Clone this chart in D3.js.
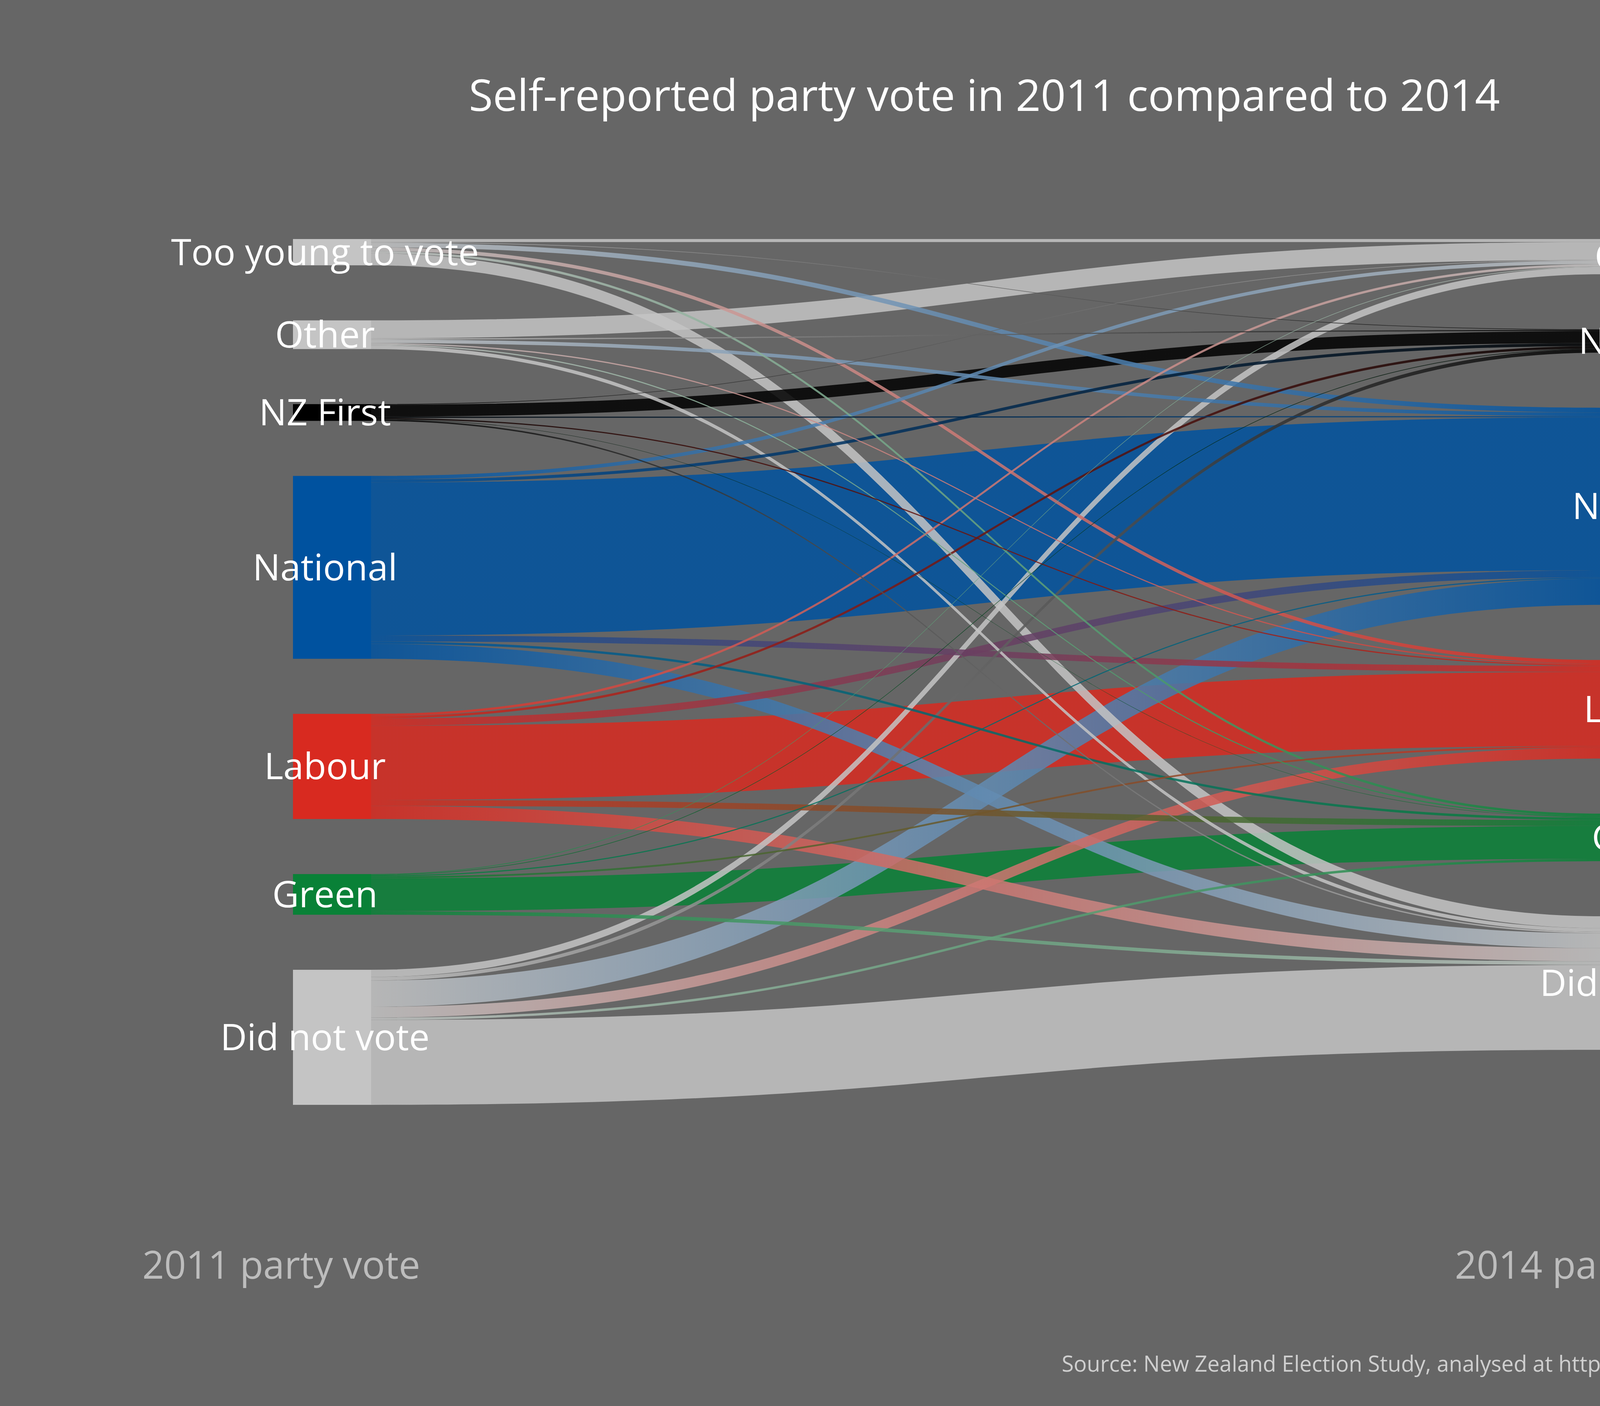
<!DOCTYPE html>
<html>
<head>
<meta charset="utf-8">
<script src="https://cdn.jsdelivr.net/npm/d3@7"></script>
<style>
  body { margin: 0; background: #666666; }
  text { font-family: "Open Sans", Lato, sans-serif; }
</style>
</head>
<body>
<div id="chart"></div>
<script>
const width = 4800;
const height = 3600;

// parties, top to bottom on each side
const sources = ["Too young to vote", "Other", "NZ First", "National", "Labour", "Green", "Did not vote"];
const targets = ["Other", "NZ First", "National", "Labour", "Green", "Did not vote"];

const colours = {
  "Too young to vote": "#c4c4c4",
  "Other": "#c4c4c4",
  "NZ First": "#000000",
  "National": "#00529f",
  "Labour": "#d82a20",
  "Green": "#098137",
  "Did not vote": "#c4c4c4"
};

// rows = 2011 vote (sources), columns = 2014 vote (targets), roughly thousands
const flows = [
  [2.5, 0.5, 4, 3, 2, 10],
  [15, 1, 3, 1, 1, 3],
  [0.5, 10, 1, 1, 0.3, 1.2],
  [3, 2.5, 128, 5, 2, 12.5],
  [2, 2, 6, 62, 5, 11],
  [0.5, 0.5, 1, 1.5, 27.5, 3],
  [6, 3, 22, 9, 2, 71]
];

const gap = 141;
const topY = 612;
const unit = 3.06;
const leftRect = [750, 950];
const rightRect = [4100, 4290];

const y = d3.scaleLinear().domain([0, 1]).range([0, unit]);

const svg = d3.select("#chart").append("svg")
  .attr("width", width).attr("height", height);
svg.append("rect").attr("width", width).attr("height", height).attr("fill", "#666666");
const defs = svg.append("defs");

// node positions
const srcTotals = flows.map(r => d3.sum(r));
const tgtTotals = targets.map((t, j) => d3.sum(flows, r => r[j]));
let acc = topY;
const srcNodes = sources.map((s, i) => {
  const n = { name: s, y0: acc, y1: acc + y(srcTotals[i]) };
  acc = n.y1 + gap;
  return n;
});
acc = topY;
const tgtNodes = targets.map((t, j) => {
  const n = { name: t, y0: acc, y1: acc + y(tgtTotals[j]) };
  acc = n.y1 + gap;
  return n;
});

// ribbons
const links = [];
const srcOff = srcNodes.map(n => n.y0);
sources.forEach((s, i) => {
  targets.forEach((t, j) => {
    const w = y(flows[i][j]);
    links.push({ i, j, s, t, sy: srcOff[i], ty: 0, w });
    srcOff[i] += w;
  });
});
targets.forEach((t, j) => {
  let off = tgtNodes[j].y0;
  sources.forEach((s, i) => {
    const l = links.find(d => d.i === i && d.j === j);
    l.ty = off;
    off += l.w;
  });
});

const x0 = leftRect[1], x1 = rightRect[0], xm = (x0 + x1) / 2;
function ribbon(d) {
  return `M${x0},${d.sy}C${xm},${d.sy} ${xm},${d.ty} ${x1},${d.ty}` +
    `L${x1},${d.ty + d.w}C${xm},${d.ty + d.w} ${xm},${d.sy + d.w} ${x0},${d.sy + d.w}Z`;
}

links.sort((a, b) => b.w - a.w);
links.forEach((d, k) => {
  const g = defs.append("linearGradient").attr("id", "g" + k)
    .attr("gradientUnits", "userSpaceOnUse")
    .attr("x1", x0).attr("x2", x1).attr("y1", 0).attr("y2", 0);
  g.append("stop").attr("offset", "0%").attr("stop-color", colours[d.s]);
  g.append("stop").attr("offset", "100%").attr("stop-color", colours[d.t]);
  svg.append("path").attr("d", ribbon(d))
    .attr("fill", `url(#g${k})`).attr("fill-opacity", 0.85);
});

// node bars
svg.selectAll(".ln").data(srcNodes).enter().append("rect")
  .attr("x", leftRect[0]).attr("width", leftRect[1] - leftRect[0])
  .attr("y", d => d.y0).attr("height", d => d.y1 - d.y0)
  .attr("fill", d => colours[d.name]);
svg.selectAll(".rn").data(tgtNodes).enter().append("rect")
  .attr("x", rightRect[0]).attr("width", rightRect[1] - rightRect[0])
  .attr("y", d => d.y0).attr("height", d => d.y1 - d.y0)
  .attr("fill", d => colours[d.name]);

// labels
svg.selectAll(".ll").data(srcNodes).enter().append("text")
  .attr("x", 832).attr("y", d => (d.y0 + d.y1) / 2)
  .attr("dy", "0.35em").attr("text-anchor", "middle")
  .attr("font-size", 94).attr("fill", "#ffffff").text(d => d.name);
svg.selectAll(".rl").data(tgtNodes).enter().append("text")
  .attr("x", 4210).attr("y", d => (d.y0 + d.y1) / 2)
  .attr("dy", "0.35em").attr("text-anchor", "middle")
  .attr("font-size", 94).attr("fill", "#ffffff").text(d => d.name);

svg.append("text").attr("x", 2520).attr("y", 245).attr("dy", "0.35em")
  .attr("text-anchor", "middle").attr("font-size", 112).attr("fill", "#ffffff")
  .text("Self-reported party vote in 2011 compared to 2014");

svg.append("text").attr("x", 720).attr("y", 3240).attr("dy", "0.35em")
  .attr("text-anchor", "middle").attr("font-size", 98).attr("fill", "#bdbdbd")
  .text("2011 party vote");
svg.append("text").attr("x", 4080).attr("y", 3240).attr("dy", "0.35em")
  .attr("text-anchor", "middle").attr("font-size", 98).attr("fill", "#bdbdbd")
  .text("2014 party vote");

svg.append("text").attr("x", 4560).attr("y", 3492).attr("dy", "0.35em")
  .attr("text-anchor", "end").attr("font-size", 56).attr("fill", "#cfcfcf")
  .text("Source: New Zealand Election Study, analysed at https://ellisp.github.io");
</script>
</body>
</html>
